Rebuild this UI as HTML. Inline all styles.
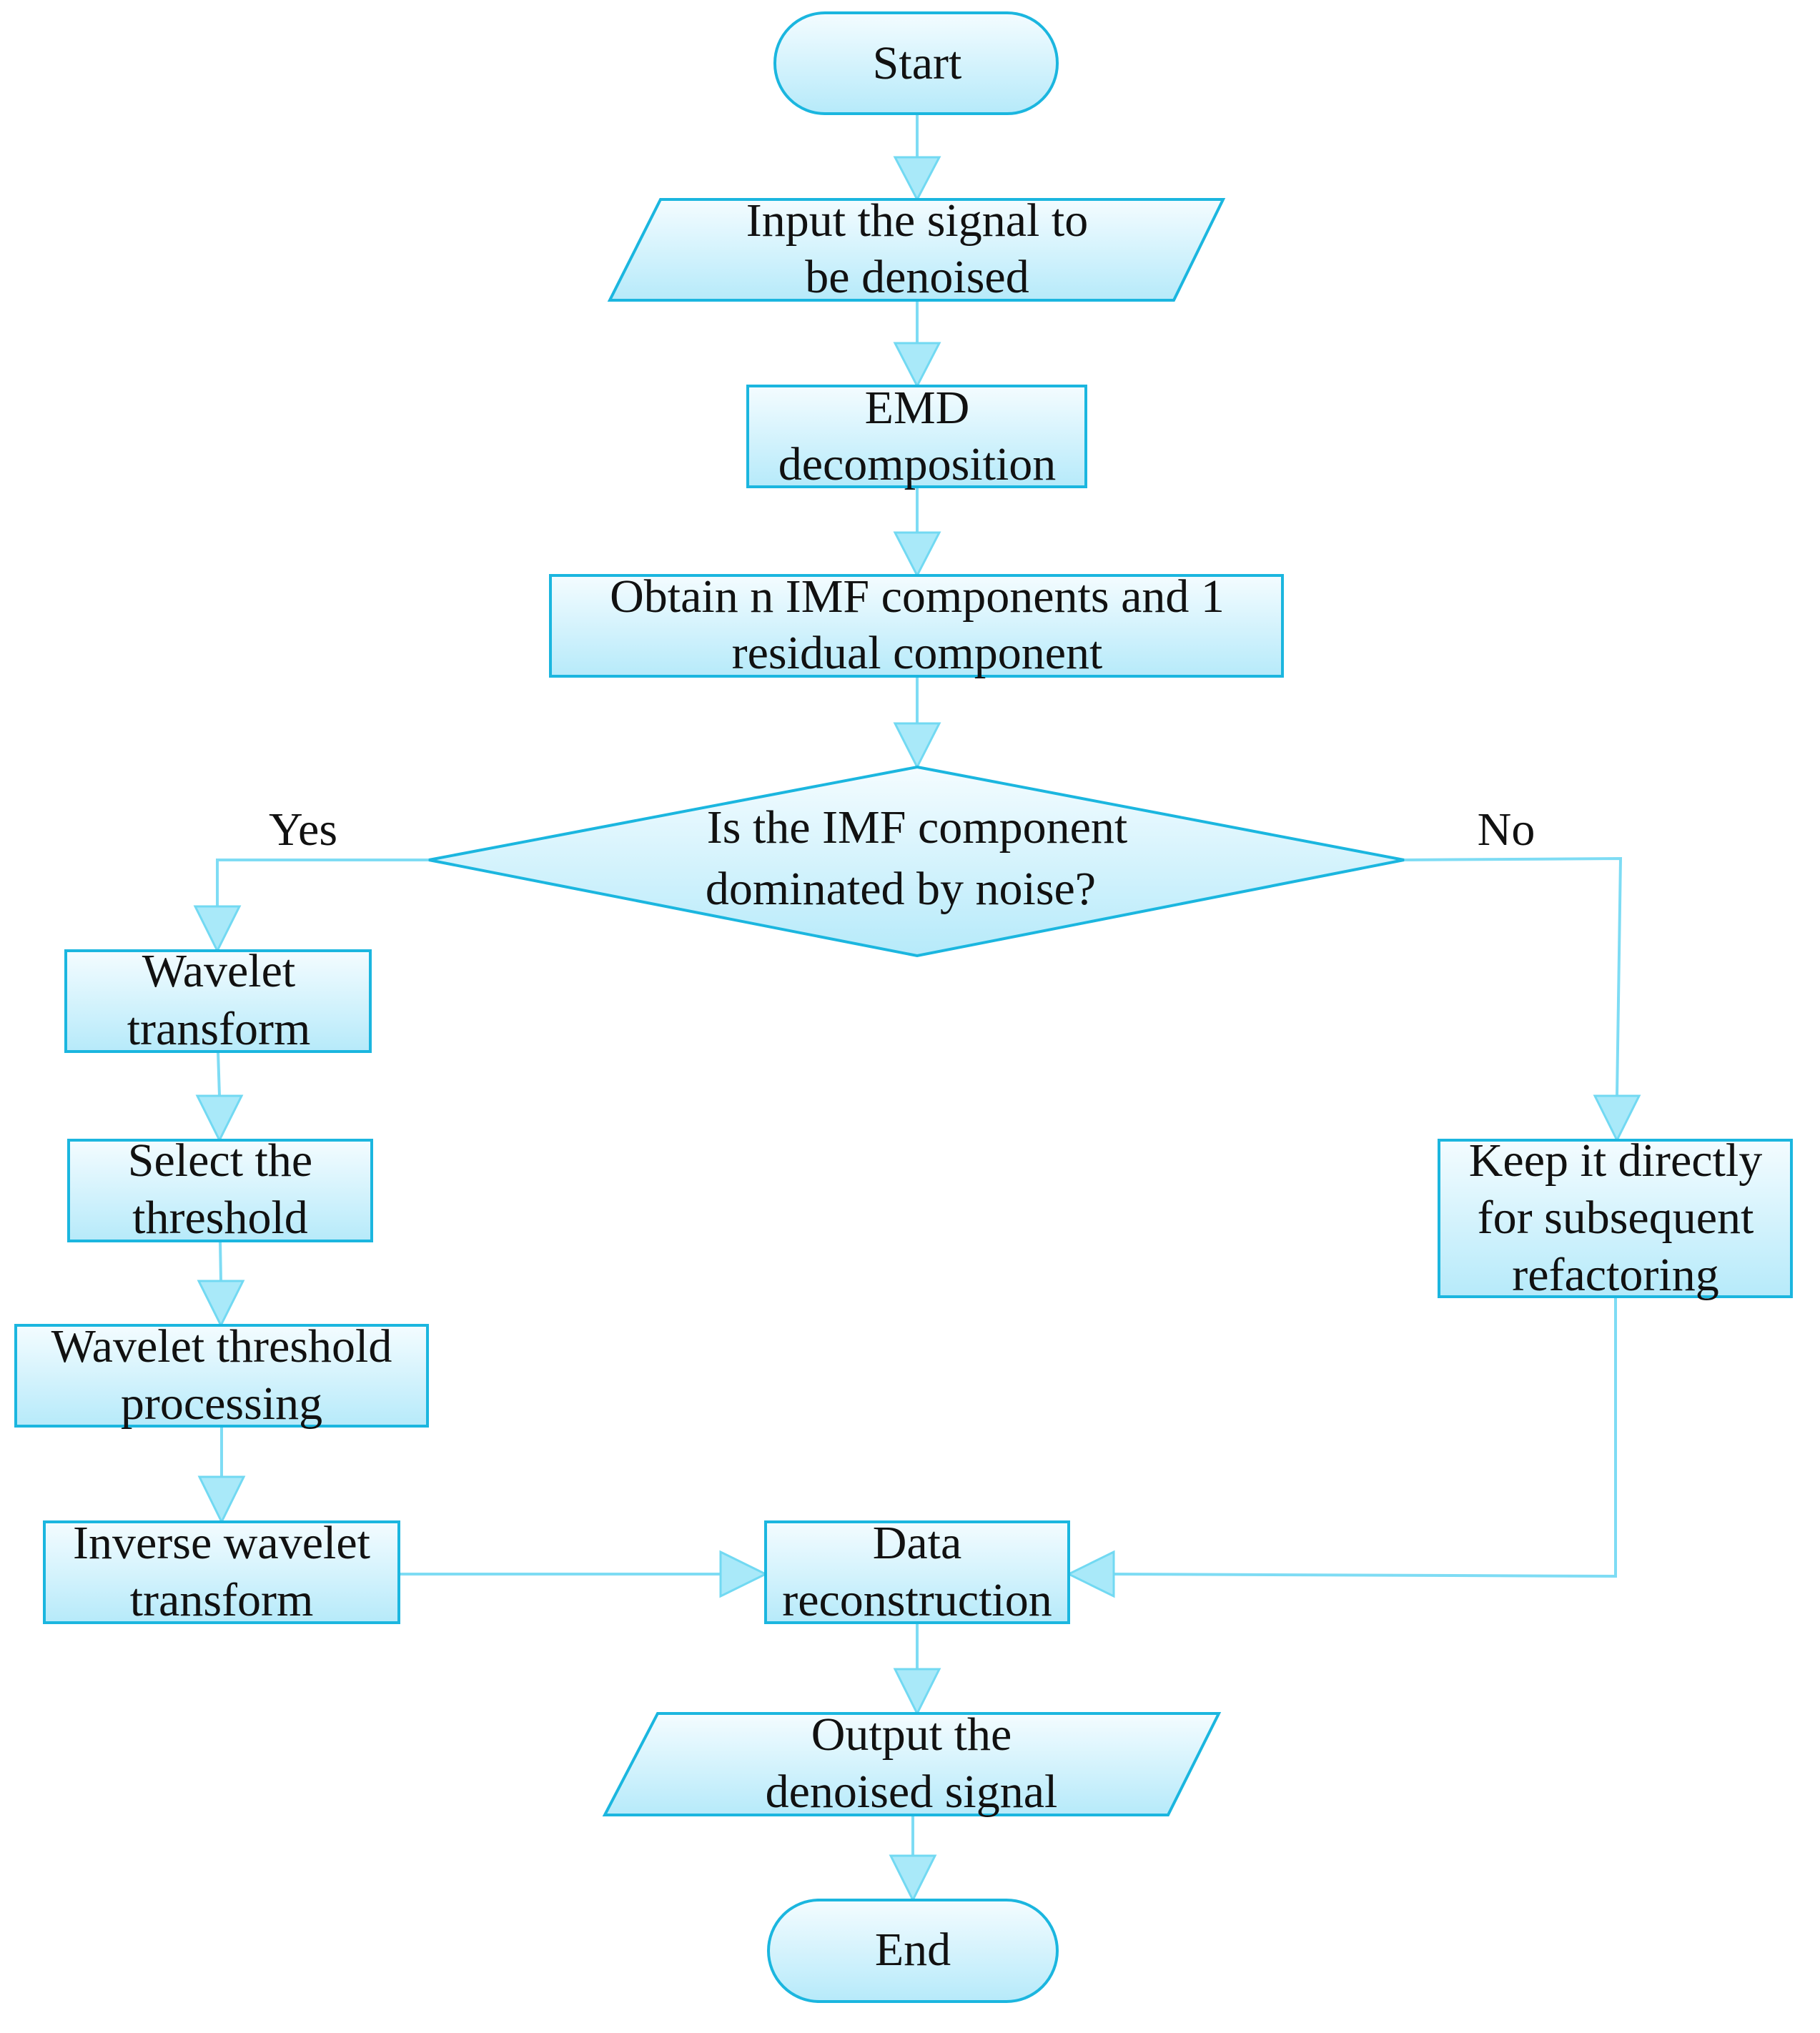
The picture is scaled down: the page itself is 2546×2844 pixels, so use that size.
<!DOCTYPE html>
<html><head><meta charset="utf-8"><style>
html,body{margin:0;padding:0;background:#fff}
svg{display:block}
text{font-family:"Liberation Serif",serif;font-size:66px;fill:#111;text-anchor:middle}
</style></head><body>
<svg width="2546" height="2844" viewBox="0 0 2546 2844" xmlns="http://www.w3.org/2000/svg">
<defs>
<linearGradient id="g" x1="0" y1="0" x2="0" y2="1">
<stop offset="0" stop-color="#f4fcff"/><stop offset="1" stop-color="#b6eafa"/>
</linearGradient>
</defs>
<g fill="none" stroke="#7edcf4" stroke-width="4">
<line x1="1283" y1="159" x2="1283" y2="220"/>
<line x1="1283" y1="420" x2="1283" y2="480"/>
<line x1="1283" y1="681" x2="1283" y2="745"/>
<line x1="1283" y1="946" x2="1283" y2="1012"/>
<polyline points="600,1203 304,1203 304,1268"/>
<polyline points="1964,1203 2267,1201 2262,1533"/>
<line x1="305" y1="1471" x2="307" y2="1533"/>
<line x1="308" y1="1736" x2="309" y2="1792"/>
<line x1="310" y1="1995" x2="310" y2="2066"/>
<line x1="558" y1="2202" x2="1008" y2="2202"/>
<polyline points="2260,1814 2260,2205 1558,2202"/>
<line x1="1283" y1="2270" x2="1283" y2="2335"/>
<line x1="1277" y1="2539" x2="1277" y2="2596"/>
</g>
<g fill="#a9e9f9" stroke="#72d9f2" stroke-width="3">
<polygon points="1252,220 1314,220 1283,279"/>
<polygon points="1252,480 1314,480 1283,540"/>
<polygon points="1252,745 1314,745 1283,805"/>
<polygon points="1252,1012 1314,1012 1283,1073"/>
<polygon points="273,1268 335,1268 304,1330"/>
<polygon points="2231,1533 2293,1533 2262,1595"/>
<polygon points="276,1533 338,1533 307,1595"/>
<polygon points="278,1792 340,1792 309,1854"/>
<polygon points="279,2066 341,2066 310,2129"/>
<polygon points="1008,2171 1008,2233 1071,2202"/>
<polygon points="1558,2171 1558,2233 1495,2202"/>
<polygon points="1252,2335 1314,2335 1283,2397"/>
<polygon points="1246,2596 1308,2596 1277,2658"/>
</g>
<g fill="url(#g)" stroke="#1bb6df" stroke-width="4">
<rect x="1084" y="18" width="395" height="141" rx="70"/>
<polygon points="924,279 1711,279 1642,420 853,420"/>
<rect x="1046" y="540" width="473" height="141"/>
<rect x="770" y="805" width="1024" height="141"/>
<polygon points="1283,1073 1964,1203 1283,1337 600,1203"/>
<rect x="92" y="1330" width="426" height="141"/>
<rect x="96" y="1595" width="424" height="141"/>
<rect x="22" y="1854" width="576" height="141"/>
<rect x="62" y="2129" width="496" height="141"/>
<rect x="1071" y="2129" width="424" height="141"/>
<rect x="2013" y="1595" width="493" height="219"/>
<polygon points="920,2397 1705,2397 1634,2539 846,2539"/>
<rect x="1075" y="2658" width="404" height="142" rx="71"/>
</g>
<text x="1283" y="110">Start</text>
<text x="1283" y="330">Input the signal to</text>
<text x="1283" y="409">be denoised</text>
<text x="1283" y="592">EMD</text>
<text x="1283" y="671">decomposition</text>
<text x="1283" y="856">Obtain n IMF components and 1</text>
<text x="1283" y="935">residual component</text>
<text x="1283" y="1179">Is the IMF component</text>
<text x="1260" y="1265">dominated by noise?</text>
<text x="424" y="1182">Yes</text>
<text x="2107" y="1182">No</text>
<text x="306" y="1380">Wavelet</text>
<text x="306" y="1461">transform</text>
<text x="308" y="1645">Select the</text>
<text x="308" y="1725">threshold</text>
<text x="310" y="1905">Wavelet threshold</text>
<text x="310" y="1985">processing</text>
<text x="310" y="2180">Inverse wavelet</text>
<text x="310" y="2260">transform</text>
<text x="1283" y="2180">Data</text>
<text x="1283" y="2260">reconstruction</text>
<text x="2260" y="1645">Keep it directly</text>
<text x="2260" y="1725">for subsequent</text>
<text x="2260" y="1805">refactoring</text>
<text x="1275" y="2448">Output the</text>
<text x="1275" y="2528">denoised signal</text>
<text x="1277" y="2749">End</text>
</svg>
</body></html>
